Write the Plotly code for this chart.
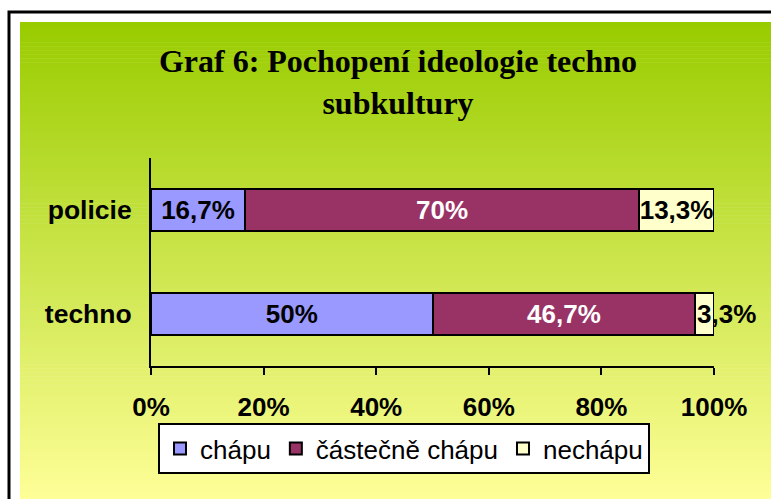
import plotly.graph_objects as go

categories = ["techno", "policie"]
chapu = [50, 16.7]
castecne = [46.7, 70]
nechapu = [3.3, 13.3]
series_names = ["chápu", "částečně chápu", "nechápu"]
tick_values = [0, 20, 40, 60, 80, 100]
tick_labels = ["0%", "20%", "40%", "60%", "80%", "100%"]
title_text = "Graf 6: Pochopení ideologie techno<br>subkultury"

W, H = 771, 499
L, R, T, B = 151, 714, 158, 366  # plot area in pixels


def px_x(x):
    return (x - L) / (R - L)


def px_y(y):
    return (B - y) / (B - T)


def fmt(v):
    return f"{v:g}".replace(".", ",") + "%"


colors = ["#9999FF", "#993366", "#FFFFCC"]
text_colors = ["black", "white", "black"]
values = [chapu, castecne, nechapu]
SANS = "Liberation Sans, Arial"

fig = go.Figure()
for i, (name, vals) in enumerate(zip(series_names, values)):
    texts = [fmt(v) for v in vals]
    if i == 2:
        texts[0] = ""  # tiny segment labelled with annotation
    fig.add_trace(go.Bar(
        y=categories, x=vals, name=name, orientation="h",
        marker=dict(color=colors[i], line=dict(color="black", width=2)),
        text=texts, textposition="inside", insidetextanchor="middle",
        textangle=0, constraintext="none",
        textfont=dict(family=SANS, size=26, color=text_colors[i], weight="bold"),
    ))

# label for tiny segment (techno / nechápu)
fig.add_annotation(
    x=chapu[0] + castecne[0], y=categories[0], xref="x", yref="y",
    text=fmt(nechapu[0]), showarrow=False, xanchor="left", xshift=0,
    font=dict(family=SANS, size=26, color="black", weight="bold"),
)

shapes = []
# outer frame
shapes.append(dict(type="rect", xref="paper", yref="paper",
                   x0=px_x(9), x1=px_x(800), y0=px_y(520), y1=px_y(12),
                   line=dict(color="black", width=3), fillcolor="white", layer="below"))
# gradient background as strips
top_c = (153, 204, 0)
bot_c = (255, 255, 153)
y_top, y_bot = 22, 505
n = 120
for k in range(n):
    t = k / (n - 1)
    c = tuple(round(a + (b - a) * t) for a, b in zip(top_c, bot_c))
    ya = y_top + (y_bot - y_top) * k / n
    yb = y_top + (y_bot - y_top) * (k + 1) / n + 0.6
    shapes.append(dict(type="rect", xref="paper", yref="paper",
                       x0=px_x(20), x1=px_x(790), y0=px_y(yb), y1=px_y(ya),
                       line=dict(width=0), fillcolor=f"rgb{c}", layer="below"))

fig.update_layout(
    width=W, height=H,
    margin=dict(l=L, r=W - R, t=T, b=H - B, pad=0),
    paper_bgcolor="white", plot_bgcolor="rgba(0,0,0,0)",
    barmode="stack", bargap=0.6,
    shapes=shapes,
    title=dict(text=title_text, x=398 / W, xanchor="center",
               y=1 - 72 / H, yanchor="middle", xref="container", yref="container",
               font=dict(family="Liberation Serif, Times New Roman", size=32,
                         color="black", weight="bold")),
    xaxis=dict(range=[0, 100], tickvals=tick_values, ticktext=tick_labels,
               showgrid=False, zeroline=False, showline=True, linecolor="black",
               linewidth=2, ticks="outside", ticklen=7, tickwidth=2, tickcolor="black",
               ticklabelstandoff=10,
               tickfont=dict(family=SANS, size=26, color="black", weight="bold")),
    yaxis=dict(showgrid=False, zeroline=False, showline=True, linecolor="black",
               linewidth=2, ticks="", ticklabelstandoff=12,
               tickfont=dict(family=SANS, size=26.5, color="black", weight="bold")),
    legend=dict(orientation="h", x=px_x(404), xanchor="center", y=px_y(423),
                yanchor="top", bgcolor="white", bordercolor="black", borderwidth=2,
                font=dict(family=SANS, size=26, color="black"),
                traceorder="normal", itemwidth=30, tracegroupgap=0),
    showlegend=True,
)

fig.write_html("out.html", config={"displayModeBar": False},
               post_script="document.body.style.margin='0';")
